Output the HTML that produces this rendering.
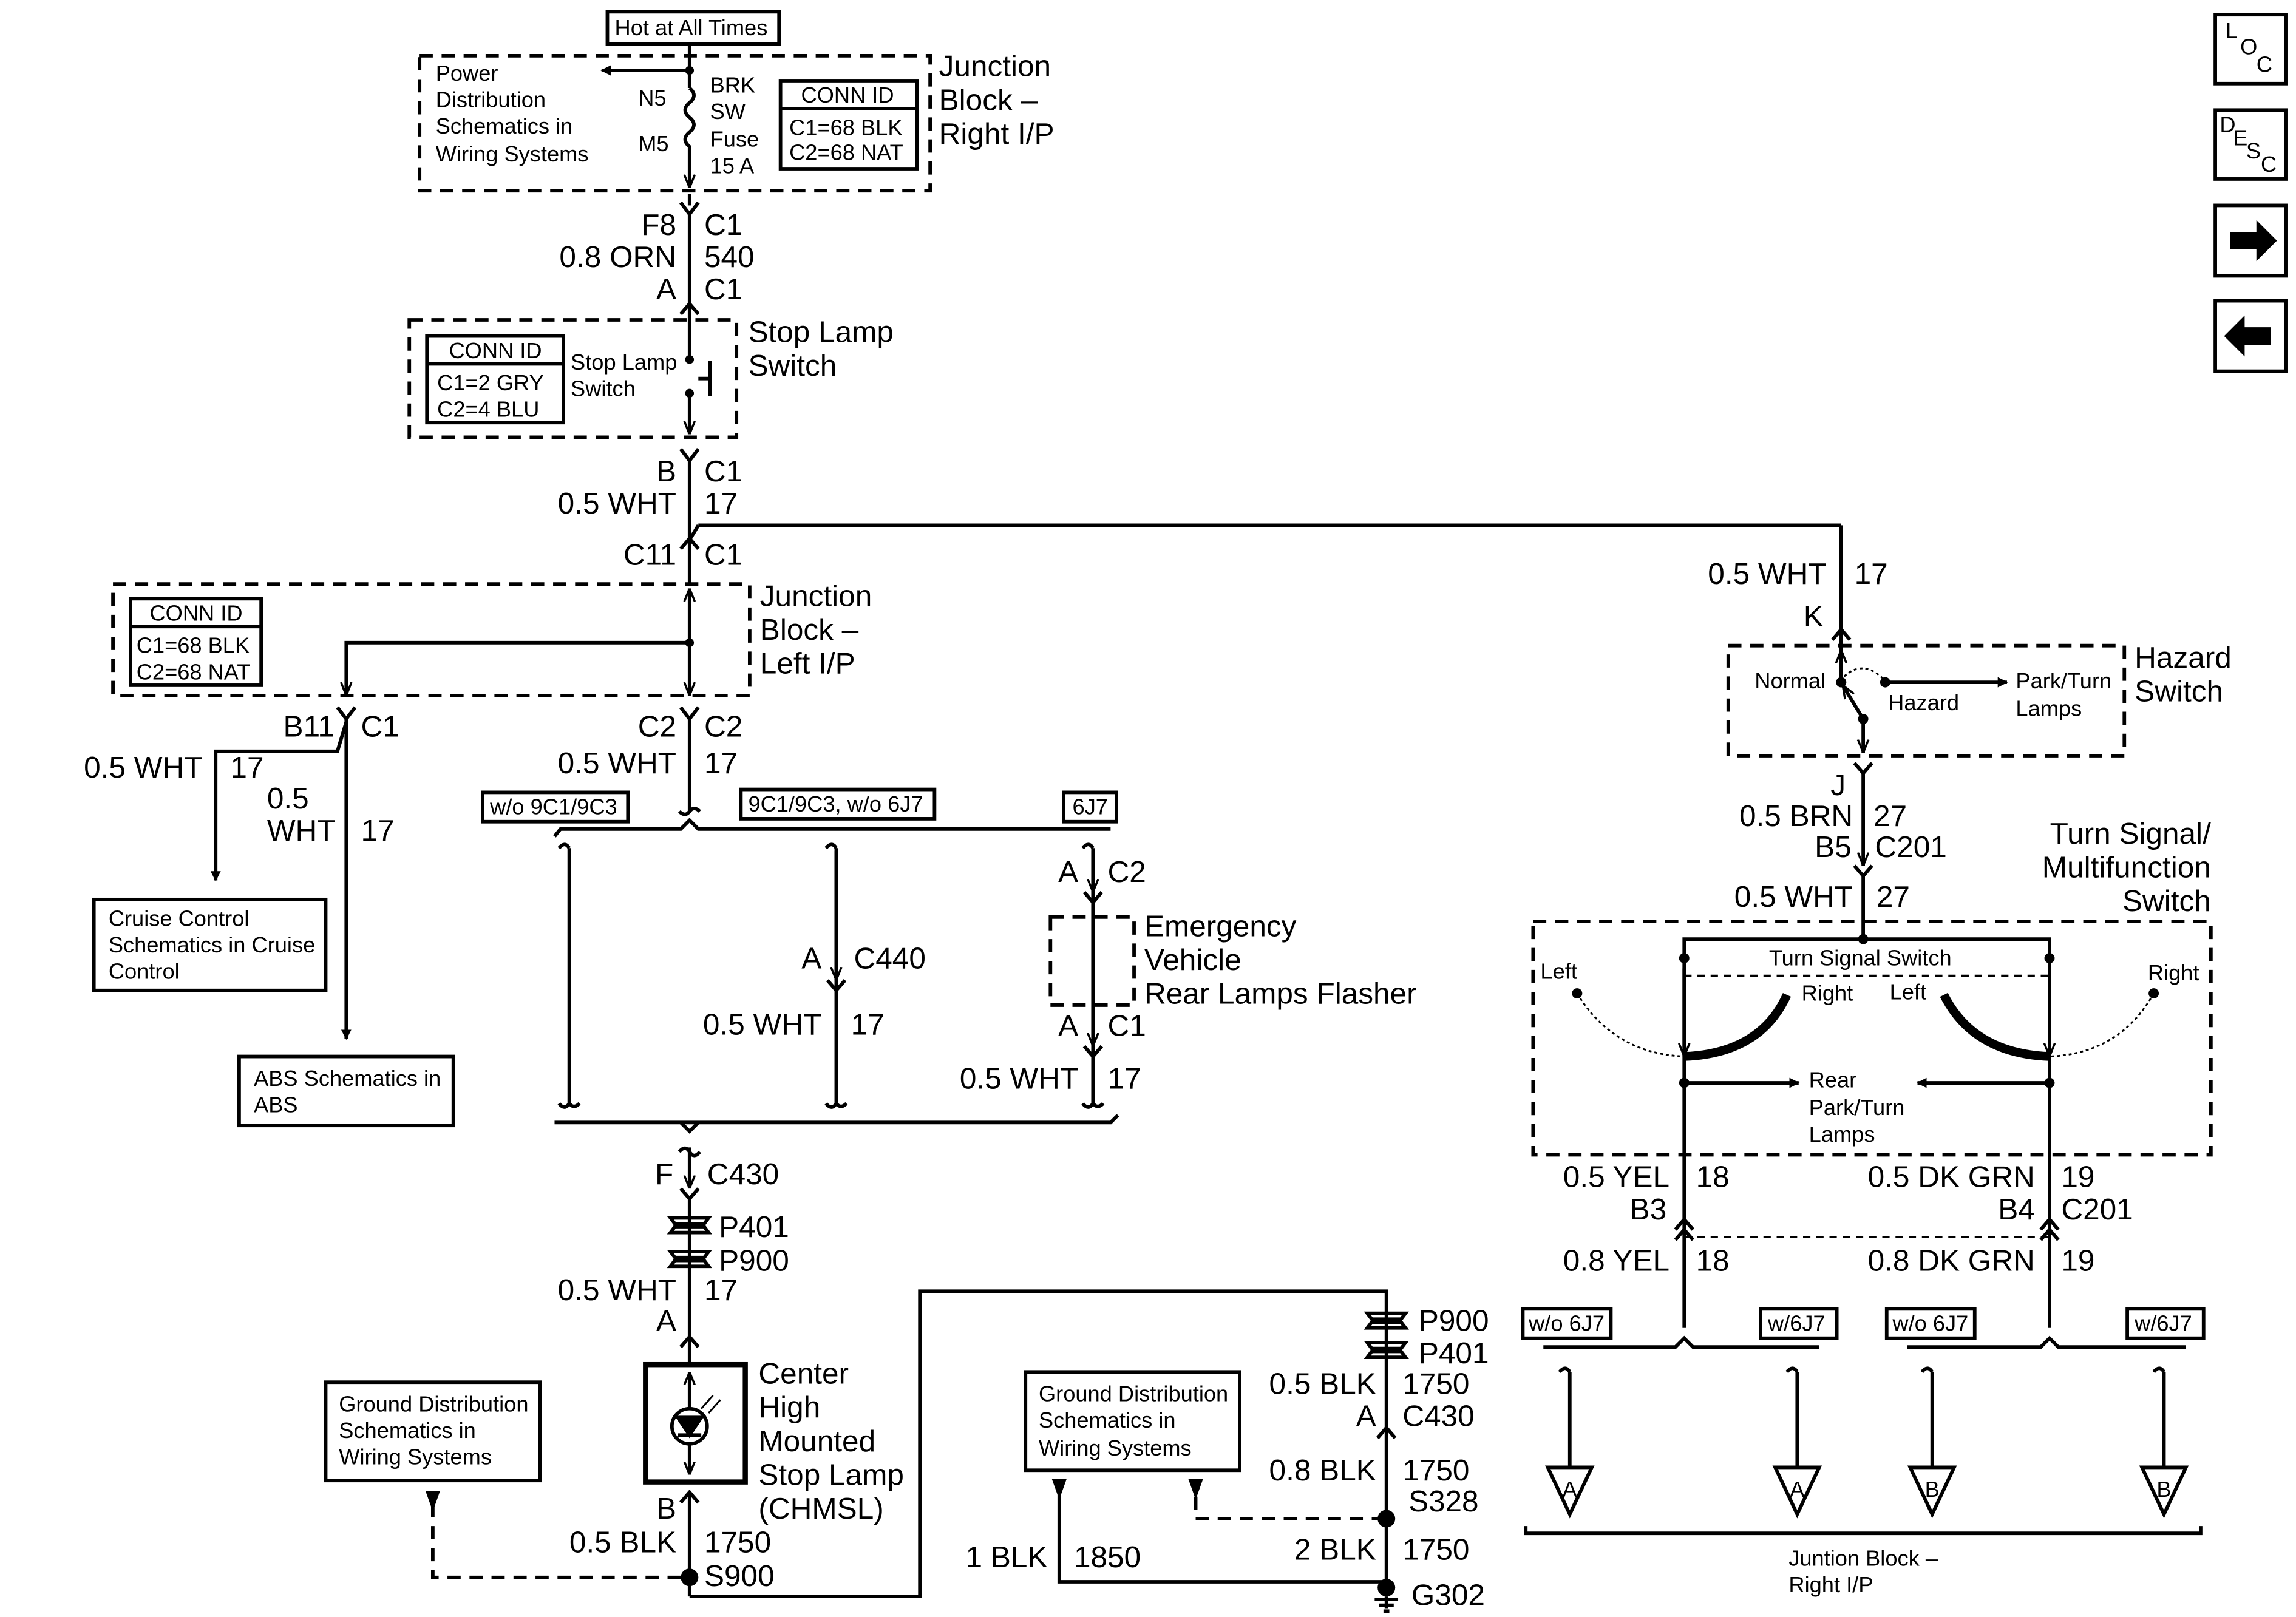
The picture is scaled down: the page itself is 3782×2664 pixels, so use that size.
<!DOCTYPE html>
<html><head><meta charset="utf-8"><style>
html,body{margin:0;padding:0;background:#fff}
svg{display:block}
text{font-family:"Liberation Sans",Arial,sans-serif;fill:#000}
.b{font-size:20.5px}.s{font-size:15px}
.r{text-anchor:end}.m{text-anchor:middle}
</style></head><body>
<svg width="3782" height="2664" viewBox="0 0 1565 1102" preserveAspectRatio="none" xmlns="http://www.w3.org/2000/svg">
<defs>
<marker id="ah" viewBox="0 0 10 10" refX="9" refY="5" markerWidth="7" markerHeight="7" orient="auto" markerUnits="userSpaceOnUse"><path d="M0,0 L10,5 L0,10 z" fill="#000"/></marker>
<marker id="la" viewBox="0 0 10 10" refX="10" refY="5" markerWidth="9" markerHeight="9" orient="auto" markerUnits="userSpaceOnUse"><path d="M0,1 L10,5 L0,9" fill="none" stroke="#000" stroke-width="1.6"/></marker>
</defs>
<g fill="none" stroke="#000" stroke-width="2.4">
<rect x="414" y="8" width="117" height="22"/>
<line x1="470" y1="30" x2="470" y2="60"/>
<rect x="286" y="38" width="348" height="92" stroke-dasharray="9,6"/>
<line x1="470" y1="48" x2="410" y2="48" marker-end="url(#ah)"/>
<path d="M470,60 q6,5 0,10 q-6,5 0,10 q6,5 0,10 q-6,5 0,10 L470,128" marker-end="url(#la)"/>
<rect x="532" y="55" width="93" height="60"/><line x1="532" y1="74" x2="625" y2="74"/>
<line x1="470" y1="132" x2="470" y2="140"/>
<path d="M464,138 L470,146 L476,138"/><line x1="470" y1="146" x2="470" y2="210"/>
<path d="M464,214 L470,207 L476,214"/>
<line x1="470" y1="210" x2="470" y2="245"/>
<rect x="279" y="218" width="223" height="80" stroke-dasharray="9,6"/>
<rect x="291" y="229" width="93" height="59"/><line x1="291" y1="248" x2="384" y2="248"/>
<line x1="470" y1="268" x2="470" y2="296" marker-end="url(#la)"/>
<line x1="484" y1="246" x2="484" y2="270"/><line x1="476" y1="258" x2="484" y2="258"/>
<path d="M464,306 L470,314 L476,306"/><line x1="470" y1="314" x2="470" y2="368"/>
<line x1="470" y1="368" x2="476" y2="358"/><line x1="476" y1="358" x2="1255" y2="358"/>
<path d="M464,374 L470,367 L476,374"/>
<line x1="470" y1="368" x2="470" y2="398"/>
<rect x="77" y="398" width="434" height="76" stroke-dasharray="9,6"/>
<rect x="89" y="408" width="89" height="59"/><line x1="89" y1="427" x2="178" y2="427"/>
<line x1="470" y1="438" x2="470" y2="401" marker-end="url(#la)"/>
<line x1="470" y1="438" x2="470" y2="474" marker-end="url(#la)"/>
<path d="M470,438 L236,438 L236,474" marker-end="url(#la)"/>
<path d="M230,482 L236,490 L242,482"/><path d="M464,482 L470,490 L476,482"/>
<line x1="236" y1="490" x2="236" y2="708" marker-end="url(#ah)"/>
<path d="M236,492 L230,512 L147,512 L147,600" marker-end="url(#ah)"/>
<rect x="64" y="613" width="158" height="62"/>
<rect x="163" y="720" width="146" height="47"/>
<line x1="470" y1="490" x2="470" y2="553"/><path d="M463,553 q4,4 7,0 q3,-4 7,0"/>
<rect x="329" y="540" width="99" height="20"/><rect x="505" y="538" width="132" height="20"/><rect x="725" y="540" width="36" height="20"/>
<path d="M378,570 L382,565 L464,565 L470,559 L476,565 L757,565"/>
<path d="M381,578 q4,-5 7,0 M388,578 L388,752 M381,752 q4,5 7,0 q3,4 7,0"/>
<path d="M563,578 q4,-5 7,0 M570,578 L570,752 M563,752 q4,5 7,0 q3,4 7,0"/>
<path d="M738,578 q4,-5 7,0 M745,578 L745,752 M738,752 q4,5 7,0 q3,4 7,0"/>
<line x1="570" y1="580" x2="570" y2="668" marker-end="url(#la)"/><path d="M564,668 L570,675 L576,668"/>
<line x1="745" y1="580" x2="745" y2="608" marker-end="url(#la)"/><path d="M739,608 L745,615 L751,608"/>
<rect x="716" y="625" width="57" height="60" stroke-dasharray="9,6"/>
<line x1="745" y1="615" x2="745" y2="713" marker-end="url(#la)"/><path d="M739,713 L745,720 L751,713"/>
<path d="M378,765 L757,765 L762,760"/><path d="M464,765 L470,771 L476,765"/>
<path d="M463,785 q4,-5 7,0 q3,5 7,0"/>
<line x1="470" y1="782" x2="470" y2="810" marker-end="url(#la)"/><path d="M464,810 L470,817 L476,810"/>
<line x1="470" y1="817" x2="470" y2="930"/>
<path d="M464,918 L470,911 L476,918"/>
<rect x="440" y="930" width="68" height="80" stroke-width="3.5"/>
<line x1="470" y1="960" x2="470" y2="935" marker-end="url(#la)"/>
<line x1="470" y1="985" x2="470" y2="1005" marker-end="url(#la)"/>
<circle cx="470" cy="972" r="12"/><path d="M462,966 L478,966 L470,978 z" fill="#000"/><line x1="462" y1="978" x2="478" y2="978"/>
<path d="M478,960 l8,-9 M483,963 l8,-9" stroke-width="1.2"/>
<path d="M464,1024 L470,1017 L476,1024"/>
<line x1="470" y1="1017" x2="470" y2="1088"/>
<path d="M470,1088 L627,1088 L627,880 L945,880 L945,1088"/>
<rect x="222" y="942" width="146" height="67"/>
<path d="M295,1025 L295,1075 L470,1075" stroke-dasharray="9,6"/>
<rect x="699" y="935" width="146" height="67"/>
<path d="M815,1020 L815,1035 L945,1035" stroke-dasharray="9,6"/>
<path d="M722,1018 L722,1078 L945,1078"/>
<path d="M939,980 L945,973 L951,980"/>
<line x1="945" y1="1088" x2="945" y2="1096"/><line x1="937" y1="1090" x2="953" y2="1090"/><line x1="940" y1="1094" x2="950" y2="1094"/><line x1="943" y1="1098" x2="947" y2="1098"/>
<line x1="1255" y1="358" x2="1255" y2="445"/>
<path d="M1249,436 L1255,429 L1261,436"/>
<rect x="1178" y="440" width="270" height="75" stroke-dasharray="9,6"/>
<line x1="1255" y1="465" x2="1255" y2="443" marker-end="url(#la)"/>
<line x1="1270" y1="490" x2="1256" y2="467" marker-end="url(#la)"/>
<line x1="1270" y1="490" x2="1270" y2="513" marker-end="url(#la)"/>
<path d="M1257,461 q13,-12 27,2" stroke-dasharray="2,2" stroke-width="1.2"/>
<line x1="1285" y1="465" x2="1368" y2="465" marker-end="url(#ah)"/>
<path d="M1264,520 L1270,527 L1276,520"/>
<line x1="1270" y1="527" x2="1270" y2="590" marker-end="url(#la)"/><path d="M1264,590 L1270,597 L1276,590"/>
<line x1="1270" y1="597" x2="1270" y2="640"/>
<rect x="1045" y="628" width="462" height="159" stroke-dasharray="9,6"/>
<path d="M1148,720 L1148,640 L1397,640 L1397,720"/>
<line x1="1148" y1="660" x2="1148" y2="720" marker-end="url(#la)"/>
<line x1="1397" y1="660" x2="1397" y2="720" marker-end="url(#la)"/>
<line x1="1148" y1="665" x2="1397" y2="665" stroke-dasharray="5,4" stroke-width="1.5"/>
<path d="M1075,677 Q1100,718 1148,720" stroke-dasharray="2,2" stroke-width="1.2"/>
<path d="M1468,677 Q1445,718 1397,720" stroke-dasharray="2,2" stroke-width="1.2"/>
<path d="M1218,678 Q1200,718 1148,720" stroke-width="6"/>
<path d="M1325,678 Q1345,718 1397,720" stroke-width="6"/>
<line x1="1148" y1="720" x2="1148" y2="905"/><line x1="1397" y1="720" x2="1397" y2="905"/>
<line x1="1148" y1="738" x2="1226" y2="738" marker-end="url(#ah)"/>
<line x1="1397" y1="738" x2="1307" y2="738" marker-end="url(#ah)"/>
<path d="M1142,838 L1148,831 L1154,838 M1142,845 L1148,838 L1154,845"/>
<path d="M1391,838 L1397,831 L1403,838 M1391,845 L1397,838 L1403,845"/>
<line x1="1148" y1="843" x2="1397" y2="843" stroke-dasharray="5,4" stroke-width="1.5"/>
<rect x="1038" y="892" width="60" height="20"/><rect x="1200" y="892" width="52" height="20"/>
<rect x="1286" y="892" width="60" height="20"/><rect x="1450" y="892" width="52" height="20"/>
<path d="M1052,918 L1142,918 L1148,912 L1154,918 L1240,918"/>
<path d="M1300,918 L1391,918 L1397,912 L1403,918 L1490,918"/>
<path d="M1063,935 q4,-5 7,0 M1070,935 L1070,1000"/><path d="M1218,935 q4,-5 7,0 M1225,935 L1225,1000"/>
<path d="M1310,935 q4,-5 7,0 M1317,935 L1317,1000"/><path d="M1468,935 q4,-5 7,0 M1475,935 L1475,1000"/>
<path d="M1055,1000 L1085,1000 L1070,1032 z M1210,1000 L1240,1000 L1225,1032 z M1302,1000 L1332,1000 L1317,1032 z M1460,1000 L1490,1000 L1475,1032 z"/>
<path d="M1040,1040 L1040,1045 L1500,1045 L1500,1040"/>
<rect x="1510" y="10" width="48" height="47"/><rect x="1510" y="75" width="48" height="47"/>
<rect x="1510" y="140" width="48" height="48"/><rect x="1510" y="205" width="48" height="48"/>
<path d="M457,830 L483,830 L480,834 L460,834 z M457,840 L483,840 L480,836 L460,836 z"/>
<path d="M457,853 L483,853 L480,857 L460,857 z M457,863 L483,863 L480,859 L460,859 z"/>
<path d="M932,895 L958,895 L955,899 L935,899 z M932,905 L958,905 L955,901 L935,901 z"/>
<path d="M932,915 L958,915 L955,919 L935,919 z M932,925 L958,925 L955,921 L935,921 z"/>
</g>
<g fill="#000">
<circle cx="470" cy="48" r="3"/><circle cx="470" cy="245" r="3"/><circle cx="470" cy="268" r="3"/>
<circle cx="470" cy="438" r="3"/><circle cx="470" cy="1075" r="6"/><circle cx="945" cy="1035" r="6"/><circle cx="945" cy="1082" r="6"/>
<circle cx="1255" cy="465" r="3.5"/><circle cx="1285" cy="465" r="3.5"/><circle cx="1270" cy="490" r="3.5"/>
<circle cx="1270" cy="640" r="3.5"/><circle cx="1148" cy="653" r="3.5"/><circle cx="1397" cy="653" r="3.5"/>
<circle cx="1075" cy="677" r="3.5"/><circle cx="1468" cy="677" r="3.5"/><circle cx="1148" cy="738" r="3.5"/><circle cx="1397" cy="738" r="3.5"/>
<path d="M290,1016 L300,1016 L295,1030 z M717,1008 L727,1008 L722,1022 z M810,1008 L820,1008 L815,1022 z"/>
<path d="M1520,158 L1538,158 L1538,150 L1552,164 L1538,178 L1538,170 L1520,170 z"/>
<path d="M1548,223 L1530,223 L1530,215 L1516,229 L1530,243 L1530,235 L1548,235 z"/>
</g>
<text class="s" x="419" y="24">Hot at All Times</text>
<text class="s" x="297" y="55">Power</text><text class="s" x="297" y="73">Distribution</text><text class="s" x="297" y="91">Schematics in</text><text class="s" x="297" y="110">Wiring Systems</text>
<text class="s" x="435" y="72">N5</text><text class="s" x="435" y="103">M5</text>
<text class="s" x="484" y="63">BRK</text><text class="s" x="484" y="81">SW</text><text class="s" x="484" y="100">Fuse</text><text class="s" x="484" y="118">15 A</text>
<text class="s" x="546" y="70">CONN ID</text><text class="s" x="538" y="92">C1=68 BLK</text><text class="s" x="538" y="109">C2=68 NAT</text>
<text class="b" x="640" y="52">Junction</text><text class="b" x="640" y="75">Block –</text><text class="b" x="640" y="98">Right I/P</text>
<text class="b r" x="461" y="160">F8</text><text class="b" x="480" y="160">C1</text>
<text class="b r" x="461" y="182">0.8 ORN</text><text class="b" x="480" y="182">540</text>
<text class="b r" x="461" y="204">A</text><text class="b" x="480" y="204">C1</text>
<text class="s" x="306" y="244">CONN ID</text><text class="s" x="298" y="266">C1=2 GRY</text><text class="s" x="298" y="284">C2=4 BLU</text>
<text class="s" x="389" y="252">Stop Lamp</text><text class="s" x="389" y="270">Switch</text>
<text class="b" x="510" y="233">Stop Lamp</text><text class="b" x="510" y="256">Switch</text>
<text class="b r" x="461" y="328">B</text><text class="b" x="480" y="328">C1</text>
<text class="b r" x="461" y="350">0.5 WHT</text><text class="b" x="480" y="350">17</text>
<text class="b r" x="461" y="385">C11</text><text class="b" x="480" y="385">C1</text>
<text class="s" x="102" y="423">CONN ID</text><text class="s" x="93" y="445">C1=68 BLK</text><text class="s" x="93" y="463">C2=68 NAT</text>
<text class="b" x="518" y="413">Junction</text><text class="b" x="518" y="436">Block –</text><text class="b" x="518" y="459">Left I/P</text>
<text class="b r" x="228" y="502">B11</text><text class="b" x="246" y="502">C1</text>
<text class="b r" x="461" y="502">C2</text><text class="b" x="480" y="502">C2</text>
<text class="b r" x="461" y="527">0.5 WHT</text><text class="b" x="480" y="527">17</text>
<text class="b r" x="138" y="530">0.5 WHT</text><text class="b" x="157" y="530">17</text>
<text class="b" x="182" y="551">0.5</text><text class="b" x="182" y="573">WHT</text><text class="b" x="246" y="573">17</text>
<text class="s" x="74" y="631">Cruise Control</text><text class="s" x="74" y="649">Schematics in Cruise</text><text class="s" x="74" y="667">Control</text>
<text class="s" x="173" y="740">ABS Schematics in</text><text class="s" x="173" y="758">ABS</text>
<text class="s" x="334" y="555">w/o 9C1/9C3</text><text class="s" x="510" y="553">9C1/9C3, w/o 6J7</text><text class="s" x="731" y="555">6J7</text>
<text class="b r" x="560" y="660">A</text><text class="b" x="582" y="660">C440</text>
<text class="b r" x="560" y="705">0.5 WHT</text><text class="b" x="580" y="705">17</text>
<text class="b r" x="735" y="601">A</text><text class="b" x="755" y="601">C2</text>
<text class="b" x="780" y="638">Emergency</text><text class="b" x="780" y="661">Vehicle</text><text class="b" x="780" y="684">Rear Lamps Flasher</text>
<text class="b r" x="735" y="706">A</text><text class="b" x="755" y="706">C1</text>
<text class="b r" x="735" y="742">0.5 WHT</text><text class="b" x="755" y="742">17</text>
<text class="b r" x="459" y="807">F</text><text class="b" x="482" y="807">C430</text>
<text class="b" x="490" y="843">P401</text><text class="b" x="490" y="866">P900</text>
<text class="b r" x="461" y="886">0.5 WHT</text><text class="b" x="480" y="886">17</text>
<text class="b r" x="461" y="907">A</text>
<text class="b" x="517" y="943">Center</text><text class="b" x="517" y="966">High</text><text class="b" x="517" y="989">Mounted</text><text class="b" x="517" y="1012">Stop Lamp</text><text class="b" x="517" y="1035">(CHMSL)</text>
<text class="b r" x="461" y="1035">B</text>
<text class="b r" x="461" y="1058">0.5 BLK</text><text class="b" x="480" y="1058">1750</text><text class="b" x="480" y="1081">S900</text>
<text class="s" x="231" y="962">Ground Distribution</text><text class="s" x="231" y="980">Schematics in</text><text class="s" x="231" y="998">Wiring Systems</text>
<text class="s" x="708" y="955">Ground Distribution</text><text class="s" x="708" y="973">Schematics in</text><text class="s" x="708" y="992">Wiring Systems</text>
<text class="b" x="967" y="907">P900</text><text class="b" x="967" y="929">P401</text>
<text class="b r" x="938" y="950">0.5 BLK</text><text class="b" x="956" y="950">1750</text>
<text class="b r" x="938" y="972">A</text><text class="b" x="956" y="972">C430</text>
<text class="b r" x="938" y="1009">0.8 BLK</text><text class="b" x="956" y="1009">1750</text><text class="b" x="960" y="1030">S328</text>
<text class="b r" x="714" y="1068">1 BLK</text><text class="b" x="732" y="1068">1850</text>
<text class="b r" x="938" y="1063">2 BLK</text><text class="b" x="956" y="1063">1750</text><text class="b" x="962" y="1094">G302</text>
<text class="b r" x="1245" y="398">0.5 WHT</text><text class="b" x="1264" y="398">17</text><text class="b r" x="1243" y="427">K</text>
<text class="s" x="1196" y="469">Normal</text><text class="s" x="1287" y="484">Hazard</text>
<text class="s" x="1374" y="469">Park/Turn</text><text class="s" x="1374" y="488">Lamps</text>
<text class="b" x="1455" y="455">Hazard</text><text class="b" x="1455" y="478">Switch</text>
<text class="b r" x="1258" y="542">J</text>
<text class="b r" x="1263" y="563">0.5 BRN</text><text class="b" x="1277" y="563">27</text>
<text class="b r" x="1262" y="584">B5</text><text class="b" x="1278" y="584">C201</text>
<text class="b r" x="1263" y="618">0.5 WHT</text><text class="b" x="1279" y="618">27</text>
<text class="b r" x="1507" y="575">Turn Signal/</text><text class="b r" x="1507" y="598">Multifunction</text><text class="b r" x="1507" y="621">Switch</text>
<text class="s m" x="1268" y="658">Turn Signal Switch</text>
<text class="s" x="1050" y="667">Left</text><text class="s" x="1464" y="668">Right</text>
<text class="s" x="1228" y="682">Right</text><text class="s" x="1288" y="681">Left</text>
<text class="s" x="1233" y="741">Rear</text><text class="s" x="1233" y="760">Park/Turn</text><text class="s" x="1233" y="778">Lamps</text>
<text class="b r" x="1138" y="809">0.5 YEL</text><text class="b" x="1156" y="809">18</text><text class="b r" x="1136" y="831">B3</text>
<text class="b r" x="1387" y="809">0.5 DK GRN</text><text class="b" x="1405" y="809">19</text>
<text class="b r" x="1387" y="831">B4</text><text class="b" x="1405" y="831">C201</text>
<text class="b r" x="1138" y="866">0.8 YEL</text><text class="b" x="1156" y="866">18</text>
<text class="b r" x="1387" y="866">0.8 DK GRN</text><text class="b" x="1405" y="866">19</text>
<text class="s" x="1042" y="907">w/o 6J7</text><text class="s" x="1205" y="907">w/6J7</text>
<text class="s" x="1290" y="907">w/o 6J7</text><text class="s" x="1455" y="907">w/6J7</text>
<text class="s m" x="1070" y="1020">A</text><text class="s m" x="1225" y="1020">A</text><text class="s m" x="1317" y="1020">B</text><text class="s m" x="1475" y="1020">B</text>
<text class="s m" x="1270" y="1067">Juntion Block –</text><text class="s m" x="1248" y="1085">Right I/P</text>
<text class="s" x="1517" y="26">L</text><text class="s" x="1527" y="37">O</text><text class="s" x="1538" y="49">C</text>
<text class="s" x="1513" y="90">D</text><text class="s" x="1522" y="99">E</text><text class="s" x="1531" y="108">S</text><text class="s" x="1541" y="117">C</text>
</svg>
</body></html>
